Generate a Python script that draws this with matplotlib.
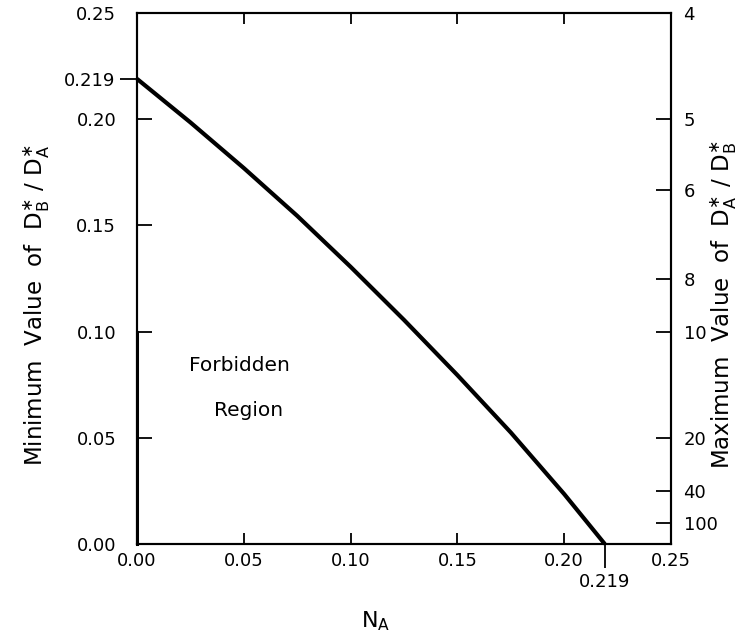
import matplotlib
matplotlib.use("Agg")
import matplotlib.pyplot as plt
from matplotlib.ticker import FixedLocator, FixedFormatter

# boundary curve
n_a = [0.0, 0.025, 0.05, 0.075, 0.10, 0.125, 0.15, 0.175, 0.20, 0.219]
d_ratio = [0.219, 0.1985, 0.177, 0.1545, 0.1305, 0.1055, 0.0795, 0.0525, 0.0235, 0.0]

left_ticks = [0.0, 0.05, 0.10, 0.15, 0.20, 0.25]
left_labels = ["0.00", "0.05", "0.10", "0.15", "0.20", "0.25"]
bottom_ticks = [0.0, 0.05, 0.10, 0.15, 0.20, 0.25]
bottom_labels = ["0.00", "0.05", "0.10", "0.15", "0.20", "0.25"]
right_values = [4, 5, 6, 8, 10, 20, 40, 100]
limit = 0.219

plt.rcParams["font.family"] = ["DejaVu Sans"]
plt.rcParams["mathtext.fontset"] = "dejavusans"

fig = plt.figure(figsize=(7.47, 6.41), dpi=100)
ax = fig.add_axes([0.1834, 0.1513, 0.7149, 0.8284])

ax.plot(n_a, d_ratio, color="black", lw=3.0, solid_capstyle="butt", clip_on=False)
ax.plot([0, 0], [0, 0.1], color="black", lw=2.2, clip_on=False)

ax.set_xlim(0, 0.25)
ax.set_ylim(0, 0.25)

for s in ax.spines.values():
    s.set_linewidth(1.5)

ax.xaxis.set_major_locator(FixedLocator(bottom_ticks))
ax.xaxis.set_major_formatter(FixedFormatter(bottom_labels))
ax.yaxis.set_major_locator(FixedLocator(left_ticks))
ax.yaxis.set_major_formatter(FixedFormatter(left_labels))

ax.xaxis.set_minor_locator(FixedLocator([limit]))
ax.xaxis.set_minor_formatter(FixedFormatter(["0.219"]))
ax.yaxis.set_minor_locator(FixedLocator([limit]))
ax.yaxis.set_minor_formatter(FixedFormatter(["0.219"]))

ax.tick_params(axis="x", which="major", direction="in", length=8, width=1.3,
               top=True, labelsize=13, pad=6)
ax.tick_params(axis="y", which="major", direction="in", length=11, width=1.3,
               right=False, labelsize=13, pad=15)
ax.tick_params(axis="x", which="minor", direction="out", length=17, width=1.3,
               top=False, labelsize=13, pad=4)
ax.tick_params(axis="y", which="minor", direction="out", length=12, width=1.3,
               right=False, labelsize=13, pad=4)

ax.set_xlabel(r"$\mathrm{N_A}$", fontsize=16)
ax.xaxis.set_label_coords(0.446, -0.124)
ax.set_ylabel(r"Minimum  Value  of  $\mathrm{D_B^{\ast}\ /\ D_A^{\ast}}$", fontsize=16.5)
ax.yaxis.set_label_coords(-0.16, 0.45)

ax.text(0.048, 0.084, "Forbidden", fontsize=14.5, ha="center", va="center")
ax.text(0.052, 0.063, "Region", fontsize=14.5, ha="center", va="center")

ax2 = ax.twinx()
ax2.set_ylim(0, 0.25)
ax2.yaxis.set_major_locator(FixedLocator([1.0 / v for v in right_values]))
ax2.yaxis.set_major_formatter(FixedFormatter([str(v) for v in right_values]))
ax2.tick_params(axis="y", direction="in", length=11, width=1.3, labelsize=13, pad=9)
ax2.set_ylabel(r"Maximum  Value  of  $\mathrm{D_A^{\ast}\ /\ D_B^{\ast}}$", fontsize=16.5,
               rotation=90)
ax2.yaxis.set_label_coords(1.07, 0.45)
for s in ax2.spines.values():
    s.set_linewidth(1.5)

fig.savefig("out.png", dpi=100)
